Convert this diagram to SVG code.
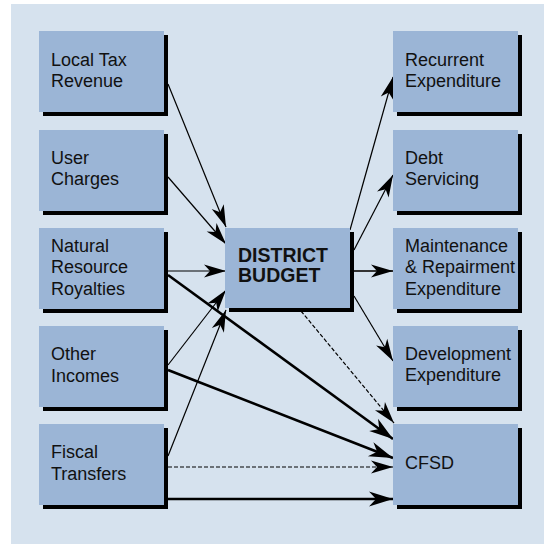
<svg xmlns="http://www.w3.org/2000/svg" width="544" height="544" viewBox="0 0 544 544">
<defs>
<style>
.bg{fill:#d6e2ee}
.box{fill:#9bb5d6}
.sh{fill:#000}
.t{font-family:"Liberation Sans",Arial,sans-serif;font-size:18px;fill:#111}
.tb{font-family:"Liberation Sans",Arial,sans-serif;font-size:19.5px;font-weight:bold;fill:#111}
.thin{stroke:#000;stroke-width:1.2;fill:none;marker-end:url(#ah)}
.thick{stroke:#000;stroke-width:2.6;fill:none;marker-end:url(#ahb)}
.dash{stroke:#000;stroke-width:1.2;fill:none;stroke-dasharray:4 2;marker-end:url(#ah)}
</style>
<marker id="ah" markerUnits="userSpaceOnUse" markerWidth="22" markerHeight="13" refX="22" refY="6.5" orient="auto" overflow="visible">
<path d="M0,0 L22,6.5 L0,13 L6,6.5 Z" fill="#000"/>
</marker>
<marker id="ahb" markerUnits="userSpaceOnUse" markerWidth="24" markerHeight="15" refX="24" refY="7.5" orient="auto" overflow="visible">
<path d="M0,0 L24,7.5 L0,15 L7,7.5 Z" fill="#000"/>
</marker>
</defs>
<rect class="bg" x="11" y="4" width="533" height="540"/>

<g id="connectors">
<line class="thin" x1="168" y1="84" x2="226" y2="227"/>
<line class="thin" x1="168" y1="177" x2="226" y2="244"/>
<line class="thin" x1="168" y1="271" x2="226" y2="271"/>
<line class="thick" x1="168" y1="275" x2="393" y2="439"/>
<line class="thin" x1="168" y1="365" x2="226" y2="290"/>
<line class="thick" x1="168" y1="370" x2="393" y2="458"/>
<line class="thin" x1="168" y1="456" x2="226" y2="310"/>
<line class="dash" x1="168" y1="467" x2="393" y2="467"/>
<line class="thick" x1="168" y1="499" x2="393" y2="499"/>
<line class="dash" x1="301" y1="311" x2="394" y2="423"/>
<line class="thin" x1="354" y1="296" x2="393" y2="361"/>
<line stroke="#333" stroke-width="2" fill="none" marker-end="url(#ah)" x1="354" y1="271" x2="393" y2="271"/>
<line class="thin" x1="350" y1="230" x2="393" y2="77"/>
<line class="thin" x1="354" y1="250" x2="393" y2="175"/>
</g>

<g id="local-tax">
<rect class="sh" x="43" y="35" width="125" height="81"/>
<rect class="box" x="39" y="31" width="125" height="81"/>
<text class="t" x="51" y="66">Local Tax</text>
<text class="t" x="51" y="87">Revenue</text>
</g>
<g id="user-charges">
<rect class="sh" x="43" y="134" width="125" height="81"/>
<rect class="box" x="39" y="130" width="125" height="81"/>
<text class="t" x="51" y="164">User</text>
<text class="t" x="51" y="185">Charges</text>
</g>
<g id="natural-resource">
<rect class="sh" x="43" y="232" width="125" height="81"/>
<rect class="box" x="39" y="228" width="125" height="81"/>
<text class="t" x="51" y="252">Natural</text>
<text class="t" x="51" y="273">Resource</text>
<text class="t" x="51" y="295">Royalties</text>
</g>
<g id="other-incomes">
<rect class="sh" x="43" y="330" width="125" height="81"/>
<rect class="box" x="39" y="326" width="125" height="81"/>
<text class="t" x="51" y="360">Other</text>
<text class="t" x="51" y="382">Incomes</text>
</g>
<g id="fiscal-transfers">
<rect class="sh" x="43" y="428" width="125" height="81"/>
<rect class="box" x="39" y="424" width="125" height="81"/>
<text class="t" x="51" y="458">Fiscal</text>
<text class="t" x="51" y="480">Transfers</text>
</g>

<g id="district-budget">
<rect class="sh" x="229" y="232" width="125" height="80"/>
<rect class="box" x="225" y="228" width="125" height="80"/>
<text class="tb" x="238" y="262">DISTRICT</text>
<text class="tb" x="238" y="282">BUDGET</text>
</g>

<g id="recurrent">
<rect class="sh" x="397" y="35" width="125" height="81"/>
<rect class="box" x="393" y="31" width="125" height="81"/>
<text class="t" x="405" y="66">Recurrent</text>
<text class="t" x="405" y="87">Expenditure</text>
</g>
<g id="debt">
<rect class="sh" x="397" y="134" width="125" height="81"/>
<rect class="box" x="393" y="130" width="125" height="81"/>
<text class="t" x="405" y="164">Debt</text>
<text class="t" x="405" y="185">Servicing</text>
</g>
<g id="maintenance">
<rect class="sh" x="397" y="232" width="125" height="81"/>
<rect class="box" x="393" y="228" width="125" height="81"/>
<text class="t" x="405" y="252">Maintenance</text>
<text class="t" x="405" y="273">&amp; Repairment</text>
<text class="t" x="405" y="295">Expenditure</text>
</g>
<g id="development">
<rect class="sh" x="397" y="330" width="125" height="81"/>
<rect class="box" x="393" y="326" width="125" height="81"/>
<text class="t" x="405" y="360">Development</text>
<text class="t" x="405" y="381">Expenditure</text>
</g>
<g id="cfsd">
<rect class="sh" x="397" y="428" width="125" height="81"/>
<rect class="box" x="393" y="424" width="125" height="81"/>
<text class="t" x="405" y="469">CFSD</text>
</g>
</svg>
